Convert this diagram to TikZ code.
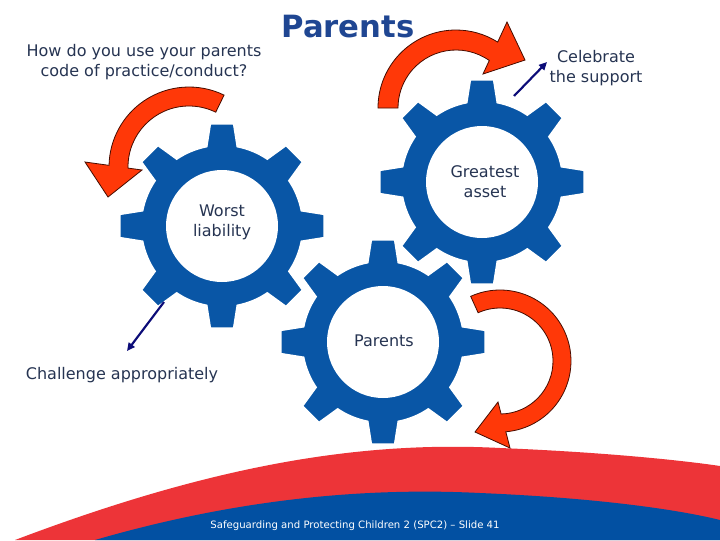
\documentclass[tikz,border=0pt]{standalone}
\usepackage{fontspec}
\setmainfont{DejaVu Sans}
\usepackage{xcolor}
\usetikzlibrary{arrows.meta}

\begin{document}
\begin{tikzpicture}[x=0.75pt,y=0.75pt,yscale=-1,xscale=1,
  gearbody/.style={fill={rgb,255:red,9;green,86;blue,166},draw=white,line width=1.5pt},
  redturn/.style={fill={rgb,255:red,255;green,56;blue,8},draw={rgb,255:red,70;green,12;blue,0},line width=0.6pt},
  pointer/.style={draw={rgb,255:red,12;green,12;blue,120},line width=1.6pt,-{Triangle[length=6pt,width=5.5pt]}},
  words/.style={text={rgb,255:red,38;green,52;blue,82},align=center,inner sep=0.75pt,font=\fontsize{12}{15}\selectfont}]
%set diagram left start at 0, and has height of 540
\fill[white] (0,0) rectangle (720,540);
\useasboundingbox (0,0) rectangle (720,540);

%Shape: Red band [id:swoosh1]
\path[fill={rgb,255:red,237;green,52;blue,56}] (15,540) .. controls (200,470) and (350,440) .. (500,448) .. controls (600,452) and (680,460) .. (720,466) -- (720,540) -- cycle ;
%Shape: Blue band [id:swoosh2]
\path[fill={rgb,255:red,2;green,80;blue,162}] (95,540) .. controls (250,495) and (380,488) .. (480,493) .. controls (600,498) and (680,510) .. (720,520) -- (720,540) -- cycle ;

%Shape: Gears
\foreach \cx/\cy in {222/226,482/182,383/342}{
  \begin{scope}[shift={(\cx,\cy)}]
    \draw[gearbody] (-11:81) \foreach \a in {0,45,...,315}{ -- (\a-11:81) -- (\a-6.6:103) -- (\a+6.6:103) -- (\a+11:81) arc[start angle=\a+11,end angle=\a+34,radius=81] } -- cycle ;
    \fill[white] (0,0) circle[radius=56] ;
  \end{scope}
}

%Shape: Curved Arrow [id:turn1]
\begin{scope}[shift={(189,167)}]
\draw[redturn] (-64:80) arc[start angle=-64,end angle=-178.8,radius=80] -- (-104,-5) -- (-81,30) -- (-47,3) -- (-181:61) arc[start angle=-181,end angle=-64,radius=61] -- cycle ;
\end{scope}
%Shape: Curved Arrow [id:turn2]
\begin{scope}[shift={(456,108)}]
\draw[redturn] (180:78) arc[start angle=180,end angle=302.3,radius=78] -- (51,-86) -- (69,-48) -- (27,-34) -- (305:58) arc[start angle=305,end angle=180,radius=58] -- cycle ;
\end{scope}
%Shape: Curved Arrow [id:turn3]
\begin{scope}[shift={(500,361)}]
\draw[redturn] (245.6:71) arc[start angle=245.6,end angle=445.3,radius=71] -- (10,87) -- (-25,71) -- (-2,41) -- (448.8:53) arc[start angle=448.8,end angle=245.6,radius=53] -- cycle ;
\end{scope}

%Straight Lines [id:pointer1]
\coordinate (supportTail) at (514,96);
\coordinate (supportHead) at (547,62);
\draw[pointer] (supportTail) -- (supportHead);
%Straight Lines [id:pointer2]
\coordinate (challengeTail) at (164,302);
\coordinate (challengeHead) at (127,351);
\draw[pointer] (challengeTail) -- (challengeHead);

% Text Node
\draw (348,27) node (title) [inner sep=0.75pt,font=\bfseries\fontsize{23}{28}\selectfont,text={rgb,255:red,31;green,70;blue,146}] {Parents};
% Text Node
\draw (144,62) node (question) [words] {How do you use your parents\\code of practice/conduct?};
% Text Node
\draw (596,68) node (celebrate) [words] {Celebrate\\the support};
% Text Node
\draw (485,182) node (greatest) [words] {Greatest\\asset};
% Text Node
\draw (222,222) node (worst) [words] {Worst\\liability};
% Text Node
\draw (384,341) node (parents) [words] {Parents};
% Text Node
\draw (122,375) node (challenge) [words] {Challenge appropriately};
% Text Node
\draw (355,526) node (footer) [inner sep=0.75pt,text=white,font=\fontsize{7.6}{9}\selectfont] {Safeguarding and Protecting Children 2 (SPC2) – Slide 41};

\end{tikzpicture}
\end{document}
